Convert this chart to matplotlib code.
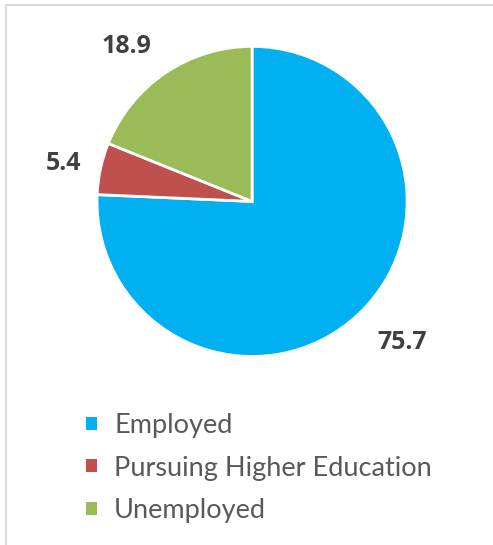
import numpy as np
import matplotlib.pyplot as plt
from matplotlib.lines import Line2D

categories = ['Employed', 'Pursuing Higher Education', 'Unemployed']
values = [75.7, 5.4, 18.9]
colors = ['#00B0F0', '#C0504D', '#9BBB59']

# label placement: radius (in pie radii) and angular nudge (deg)
label_dist = [1.33, 1.24, 1.29]
label_nudge = [3, 1, 5]

plt.rcParams['font.family'] = ['Lato', 'DejaVu Sans']

fig = plt.figure(figsize=(4.93, 5.45), dpi=100)
ax = fig.add_axes([0.1968, 0.3459, 0.629, 0.569])

wedges, _ = ax.pie(values, colors=colors, startangle=90, counterclock=False,
                   wedgeprops=dict(edgecolor='white', linewidth=2))
ax.set_xlim(-1, 1)
ax.set_ylim(-1, 1)
ax.set_aspect('equal')

for w, v, d, n in zip(wedges, values, label_dist, label_nudge):
    ang = np.deg2rad((w.theta1 + w.theta2) / 2 + n)
    ax.text(d * np.cos(ang), d * np.sin(ang), f'{v:.1f}', ha='center', va='center',
            fontsize=18, fontweight='bold', color='#404040', clip_on=False,
            family=['Open Sans', 'DejaVu Sans'])

leg = fig.legend(wedges, categories, loc='upper left', bbox_to_anchor=(0.126, 0.287),
                 frameon=False, fontsize=19.5, handlelength=0.37, handleheight=0.37,
                 handletextpad=0.65, labelspacing=0.65, labelcolor='#595959')
for h in leg.legend_handles:
    h.set_edgecolor('none')

# chart area border (only top and left visible)
fig.add_artist(Line2D([6 / 493, 6 / 493], [0, 1 - 5 / 545], color='#D9D9D9', lw=1.5))
fig.add_artist(Line2D([6 / 493, 1], [1 - 5 / 545, 1 - 5 / 545], color='#D9D9D9', lw=1.5))

fig.savefig('out.png', dpi=100)
